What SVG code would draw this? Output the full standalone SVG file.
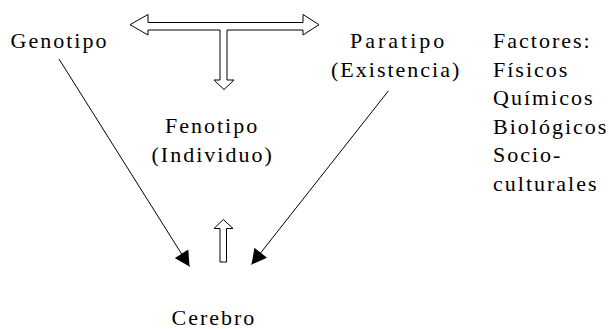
<svg xmlns="http://www.w3.org/2000/svg" width="609" height="329" viewBox="0 0 609 329">
<style>
.hollow{fill:#fff;stroke:#000;stroke-width:1}
.line{stroke:#000;stroke-width:1;fill:none}
</style>
<defs>
<marker id="ah" markerUnits="userSpaceOnUse" markerWidth="16" markerHeight="16" viewBox="0 0 14 15" refX="14" refY="7.5" orient="auto">
<path d="M0,0 L14,7.5 L0,15 Z" fill="#000"/>
</marker>
</defs>
<rect width="609" height="329" fill="#fff"/>
<g id="connectors">
<polygon class="hollow" points="130,24.7 148,14.5 148,22.5 303,22.5 303,14.5 319,24.7 303,35 303,30 227,30 227,80 234,80 224,89.5 214,80 220,80 220,30 148,30 148,35"/>
<polygon class="hollow" points="223.3,219.5 233,228.5 226.5,228.5 226.5,262 220,262 220,228.5 214,228.5"/>
<line class="line" x1="59" y1="59" x2="189.5" y2="266.5" marker-end="url(#ah)"/>
<line class="line" x1="388.3" y1="91" x2="251.5" y2="264.5" marker-end="url(#ah)"/>
</g>
<g id="genotipo"><text font-family="Liberation Serif" font-size="22" letter-spacing="2" x="10.5" y="48">Genotipo</text></g>
<g id="paratipo"><text font-family="Liberation Serif" font-size="22" letter-spacing="3" x="350" y="48">Paratipo</text><text font-family="Liberation Serif" font-size="22" letter-spacing="2" x="331" y="77">(Existencia)</text></g>
<g id="fenotipo"><text font-family="Liberation Serif" font-size="22" letter-spacing="2" x="165" y="133">Fenotipo</text><text font-family="Liberation Serif" font-size="22" letter-spacing="2" x="151.5" y="161.5">(Individuo)</text></g>
<g id="cerebro"><text font-family="Liberation Serif" font-size="22" letter-spacing="2" x="171.5" y="325">Cerebro</text></g>
<g id="factores">
<text font-family="Liberation Serif" font-size="22" letter-spacing="2" x="493" y="48">Factores:</text>
<text font-family="Liberation Serif" font-size="22" letter-spacing="2" x="493" y="76.5">F&#237;sicos</text>
<text font-family="Liberation Serif" font-size="22" letter-spacing="2" x="493" y="105">Qu&#237;micos</text>
<text font-family="Liberation Serif" font-size="22" letter-spacing="2" x="493" y="133.5">Biol&#243;gicos</text>
<text font-family="Liberation Serif" font-size="22" letter-spacing="2" x="493" y="162">Socio-</text>
<text font-family="Liberation Serif" font-size="22" letter-spacing="2" x="493" y="190.5">culturales</text>
</g>
</svg>
